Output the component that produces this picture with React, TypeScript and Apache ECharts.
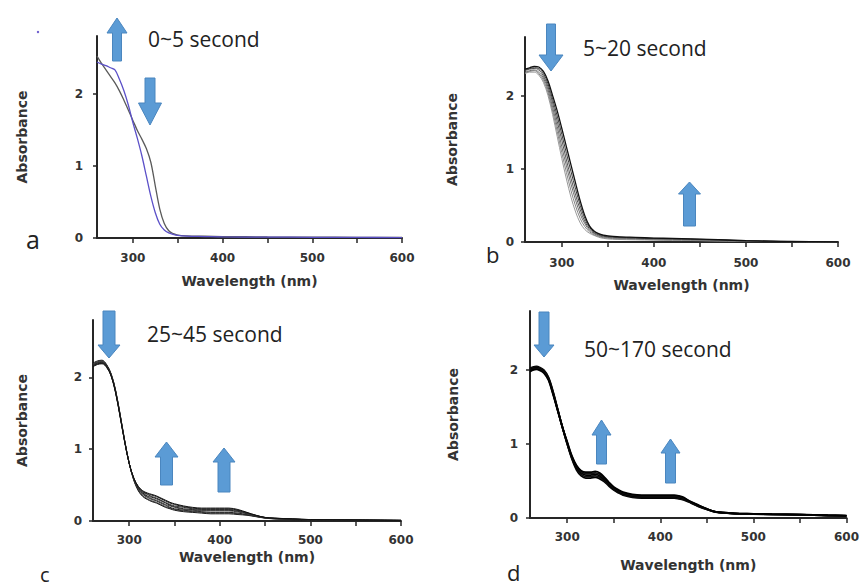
import React, { useEffect, useRef } from "react";
import * as echarts from "echarts";

// ---------- data ----------
const WL_A = [260, 265, 270, 275, 280, 285, 290, 295, 300, 305, 310, 315, 320, 325, 330, 335, 340, 345, 350, 360, 380, 400, 450, 500, 550, 600];
const A_GREY = [2.52, 2.42, 2.33, 2.24, 2.15, 2.04, 1.91, 1.77, 1.63, 1.49, 1.37, 1.24, 1.05, 0.72, 0.40, 0.20, 0.10, 0.06, 0.04, 0.03, 0.025, 0.02, 0.015, 0.012, 0.01, 0.01];
const A_BLUE = [2.44, 2.41, 2.39, 2.36, 2.33, 2.20, 2.04, 1.84, 1.60, 1.38, 1.14, 0.86, 0.58, 0.35, 0.19, 0.11, 0.07, 0.05, 0.035, 0.025, 0.02, 0.015, 0.012, 0.01, 0.008, 0.005];

const WL_B = [260, 265, 270, 275, 280, 285, 290, 295, 300, 305, 310, 315, 320, 325, 330, 335, 340, 345, 350, 360, 380, 400, 420, 440, 460, 480, 500, 525, 550, 600];
const B1 = [2.30, 2.32, 2.32, 2.28, 2.18, 2.00, 1.74, 1.44, 1.14, 0.86, 0.61, 0.41, 0.26, 0.17, 0.12, 0.09, 0.065, 0.05, 0.042, 0.035, 0.03, 0.025, 0.02, 0.02, 0.015, 0.012, 0.01, 0.008, 0.005, 0];
const B2 = [2.31, 2.33, 2.34, 2.30, 2.21, 2.04, 1.79, 1.51, 1.22, 0.95, 0.70, 0.49, 0.32, 0.21, 0.14, 0.10, 0.075, 0.06, 0.052, 0.044, 0.038, 0.032, 0.028, 0.025, 0.02, 0.015, 0.012, 0.008, 0.005, 0];
const B3 = [2.32, 2.34, 2.35, 2.32, 2.24, 2.08, 1.84, 1.58, 1.30, 1.04, 0.79, 0.57, 0.38, 0.25, 0.16, 0.115, 0.085, 0.07, 0.062, 0.053, 0.046, 0.04, 0.035, 0.031, 0.025, 0.019, 0.013, 0.009, 0.006, 0];
const B4 = [2.34, 2.36, 2.37, 2.35, 2.27, 2.12, 1.90, 1.65, 1.39, 1.12, 0.87, 0.64, 0.44, 0.28, 0.18, 0.125, 0.095, 0.078, 0.07, 0.06, 0.053, 0.046, 0.041, 0.036, 0.029, 0.022, 0.015, 0.01, 0.006, 0];
const B5 = [2.35, 2.37, 2.38, 2.37, 2.30, 2.16, 1.95, 1.72, 1.47, 1.21, 0.96, 0.72, 0.50, 0.32, 0.20, 0.14, 0.105, 0.088, 0.078, 0.067, 0.058, 0.05, 0.045, 0.04, 0.033, 0.025, 0.017, 0.011, 0.007, 0];
const B6 = [2.36, 2.38, 2.40, 2.39, 2.33, 2.20, 2.00, 1.79, 1.55, 1.30, 1.05, 0.80, 0.56, 0.36, 0.22, 0.15, 0.115, 0.095, 0.085, 0.073, 0.063, 0.054, 0.049, 0.044, 0.036, 0.027, 0.018, 0.012, 0.007, 0];

const WL_C = [260, 265, 270, 275, 280, 285, 290, 295, 300, 305, 310, 315, 320, 325, 330, 335, 340, 345, 350, 360, 370, 380, 390, 400, 410, 420, 430, 440, 450, 460, 480, 500, 550, 600];
const C1 = [2.20, 2.23, 2.24, 2.18, 2.05, 1.82, 1.48, 1.12, 0.80, 0.57, 0.42, 0.34, 0.30, 0.27, 0.25, 0.22, 0.19, 0.17, 0.15, 0.13, 0.12, 0.11, 0.10, 0.10, 0.10, 0.09, 0.08, 0.06, 0.04, 0.03, 0.02, 0.015, 0.01, 0.005];
const C2 = [2.19, 2.22, 2.23, 2.17, 2.05, 1.81, 1.48, 1.12, 0.80, 0.57, 0.43, 0.35, 0.31, 0.28, 0.26, 0.23, 0.20, 0.18, 0.16, 0.14, 0.13, 0.12, 0.11, 0.11, 0.11, 0.10, 0.085, 0.063, 0.042, 0.031, 0.021, 0.016, 0.011, 0.006];
const C3 = [2.18, 2.21, 2.22, 2.17, 2.04, 1.81, 1.47, 1.11, 0.80, 0.58, 0.44, 0.37, 0.33, 0.30, 0.28, 0.25, 0.22, 0.19, 0.17, 0.15, 0.14, 0.13, 0.12, 0.12, 0.12, 0.11, 0.09, 0.066, 0.043, 0.033, 0.023, 0.017, 0.012, 0.007];
const C4 = [2.18, 2.21, 2.22, 2.16, 2.04, 1.80, 1.47, 1.11, 0.80, 0.58, 0.45, 0.38, 0.34, 0.31, 0.29, 0.26, 0.23, 0.21, 0.19, 0.16, 0.15, 0.14, 0.14, 0.14, 0.14, 0.125, 0.10, 0.07, 0.045, 0.035, 0.025, 0.018, 0.012, 0.008];
const C5 = [2.17, 2.20, 2.21, 2.16, 2.03, 1.80, 1.46, 1.11, 0.80, 0.59, 0.46, 0.39, 0.35, 0.33, 0.31, 0.28, 0.25, 0.22, 0.20, 0.17, 0.16, 0.15, 0.15, 0.15, 0.15, 0.135, 0.105, 0.073, 0.047, 0.037, 0.026, 0.018, 0.013, 0.008];
const C6 = [2.16, 2.19, 2.20, 2.15, 2.03, 1.79, 1.46, 1.10, 0.80, 0.59, 0.47, 0.40, 0.37, 0.34, 0.32, 0.29, 0.26, 0.23, 0.21, 0.19, 0.17, 0.16, 0.16, 0.16, 0.16, 0.145, 0.11, 0.076, 0.048, 0.038, 0.028, 0.019, 0.014, 0.009];
const C7 = [2.16, 2.19, 2.20, 2.15, 2.02, 1.79, 1.45, 1.10, 0.80, 0.60, 0.48, 0.41, 0.38, 0.36, 0.34, 0.31, 0.28, 0.25, 0.23, 0.20, 0.18, 0.17, 0.17, 0.17, 0.17, 0.15, 0.115, 0.078, 0.049, 0.039, 0.029, 0.02, 0.014, 0.009];
const C8 = [2.15, 2.18, 2.19, 2.14, 2.02, 1.78, 1.45, 1.10, 0.80, 0.60, 0.48, 0.42, 0.39, 0.37, 0.35, 0.32, 0.29, 0.26, 0.24, 0.21, 0.19, 0.18, 0.18, 0.18, 0.18, 0.16, 0.12, 0.08, 0.05, 0.04, 0.03, 0.02, 0.015, 0.01];

const WL_D = [260, 263, 267, 270, 275, 280, 285, 290, 295, 300, 305, 310, 315, 320, 325, 330, 335, 340, 345, 350, 355, 360, 370, 380, 390, 400, 410, 415, 420, 425, 430, 435, 440, 450, 460, 470, 480, 500, 520, 550, 580, 600];
const D1 = [2.02, 2.04, 2.05, 2.04, 2.00, 1.90, 1.70, 1.46, 1.22, 1.00, 0.80, 0.65, 0.57, 0.54, 0.54, 0.55, 0.53, 0.49, 0.43, 0.38, 0.34, 0.31, 0.28, 0.27, 0.27, 0.27, 0.27, 0.27, 0.26, 0.245, 0.22, 0.19, 0.16, 0.115, 0.078, 0.068, 0.058, 0.053, 0.048, 0.043, 0.033, 0.028];
const D2 = [2.01, 2.03, 2.04, 2.03, 1.99, 1.89, 1.69, 1.45, 1.22, 1.00, 0.81, 0.67, 0.59, 0.56, 0.56, 0.57, 0.55, 0.50, 0.45, 0.39, 0.35, 0.32, 0.29, 0.28, 0.28, 0.28, 0.28, 0.28, 0.27, 0.25, 0.225, 0.195, 0.165, 0.118, 0.079, 0.069, 0.059, 0.054, 0.049, 0.044, 0.034, 0.029];
const D3 = [2.00, 2.02, 2.03, 2.02, 1.98, 1.88, 1.68, 1.45, 1.22, 1.01, 0.82, 0.68, 0.61, 0.58, 0.58, 0.59, 0.57, 0.52, 0.46, 0.40, 0.36, 0.33, 0.30, 0.29, 0.29, 0.29, 0.29, 0.29, 0.28, 0.26, 0.23, 0.20, 0.17, 0.12, 0.08, 0.07, 0.06, 0.055, 0.05, 0.045, 0.035, 0.03];
const D4 = [1.99, 2.01, 2.02, 2.01, 1.97, 1.87, 1.67, 1.45, 1.22, 1.02, 0.83, 0.70, 0.63, 0.60, 0.60, 0.61, 0.59, 0.54, 0.47, 0.41, 0.37, 0.34, 0.31, 0.30, 0.30, 0.30, 0.30, 0.30, 0.29, 0.27, 0.235, 0.205, 0.175, 0.123, 0.082, 0.071, 0.061, 0.056, 0.051, 0.046, 0.036, 0.031];
const D5 = [1.98, 2.00, 2.01, 2.00, 1.96, 1.86, 1.66, 1.44, 1.22, 1.03, 0.84, 0.71, 0.64, 0.62, 0.62, 0.63, 0.61, 0.55, 0.48, 0.42, 0.38, 0.35, 0.32, 0.31, 0.31, 0.31, 0.31, 0.31, 0.30, 0.28, 0.24, 0.21, 0.18, 0.125, 0.083, 0.072, 0.062, 0.057, 0.052, 0.047, 0.037, 0.032];

const X_TICKS = [300, 350, 400, 450, 500, 550, 600];
const X_LABELS = [300, 400, 500, 600];
const Y_TICKS = [0, 1, 2];
const TITLES = ["0~5 second", "5~20 second", "25~45 second", "50~170 second"];
const PANEL_LETTERS = ["a", "b", "c", "d"];

// ---------- layout ----------
const GRIDS = [
  { left: 97, top: 36, width: 305, height: 202, xGap: 36, yGap: 68, xMargin: 14, yMargin: 14 },
  { left: 525, top: 37, width: 313, height: 205, xGap: 36, yGap: 66, xMargin: 15, yMargin: 11 },
  { left: 93, top: 320, width: 308, height: 201, xGap: 28.5, yGap: 64, xMargin: 13, yMargin: 11 },
  { left: 530, top: 311, width: 318, height: 207, xGap: 40, yGap: 70, xMargin: 13, yMargin: 12 },
];

const ARROW_COLOR = "#5b9bd5";
const AXIS_COLOR = "#262626";
const TEXT_COLOR = "#333";

function arrow(cx: number, tail: number, tip: number, headLen: number, headW: number, shaftW: number) {
  const dir = tip > tail ? 1 : -1;
  const neck = tip - dir * headLen;
  const pts = [
    [cx - shaftW / 2, tail],
    [cx + shaftW / 2, tail],
    [cx + shaftW / 2, neck],
    [cx + headW / 2, neck],
    [cx, tip],
    [cx - headW / 2, neck],
    [cx - shaftW / 2, neck],
  ];
  return {
    type: "polygon",
    shape: { points: pts },
    style: { fill: ARROW_COLOR, stroke: "#4a86bf", lineWidth: 1 },
    silent: true,
  };
}

function line(wl: number[], vals: number[], idx: number, color: string, width: number) {
  return {
    type: "line",
    xAxisIndex: idx,
    yAxisIndex: idx,
    data: wl.map((w, i) => [w, vals[i]]),
    symbol: "none",
    showSymbol: false,
    smooth: 0.35,
    lineStyle: { color, width },
    silent: true,
    z: 2,
  };
}

export default function App() {
  const ref = useRef<HTMLDivElement>(null);
  useEffect(() => {
    if (!ref.current) return;
    const chart = echarts.init(ref.current, undefined, { renderer: "svg" });

    const grid = GRIDS.map((g) => ({ left: g.left, top: g.top, width: g.width, height: g.height, containLabel: false }));
    const xAxis = GRIDS.map((g, i) => ({
      type: "value",
      gridIndex: i,
      min: 260,
      max: 600,
      name: "Wavelength (nm)",
      nameLocation: "middle",
      nameGap: g.xGap,
      nameTextStyle: { fontFamily: "DejaVu Sans", fontWeight: "bold", fontSize: 14, color: TEXT_COLOR },
      axisLine: { show: true, onZero: false, lineStyle: { color: AXIS_COLOR, width: 2 } },
      axisTick: { show: true, length: 5, customValues: X_TICKS, lineStyle: { color: AXIS_COLOR, width: 1.5 } },
      axisLabel: { customValues: X_LABELS, margin: g.xMargin, fontFamily: "DejaVu Sans", fontWeight: "bold", fontSize: 12, color: TEXT_COLOR },
      splitLine: { show: false },
    }));
    const yAxis = GRIDS.map((g, i) => ({
      type: "value",
      gridIndex: i,
      min: 0,
      max: 2.8,
      name: "Absorbance",
      nameLocation: "middle",
      nameGap: g.yGap,
      nameTextStyle: { fontFamily: "DejaVu Sans", fontWeight: "bold", fontSize: 14, color: TEXT_COLOR },
      axisLine: { show: true, onZero: false, lineStyle: { color: AXIS_COLOR, width: 2 } },
      axisTick: { show: true, length: 4, customValues: Y_TICKS, lineStyle: { color: AXIS_COLOR, width: 1.5 } },
      axisLabel: { customValues: Y_TICKS, margin: g.yMargin, fontFamily: "DejaVu Sans", fontWeight: "bold", fontSize: 12, color: TEXT_COLOR },
      splitLine: { show: false },
    }));

    const series: any[] = [
      line(WL_A, A_GREY, 0, "#5a5a5a", 1.3),
      line(WL_A, A_BLUE, 0, "#5b50c8", 1.3),
      line(WL_B, B1, 1, "#9a9a9a", 1),
      line(WL_B, B2, 1, "#858585", 1),
      line(WL_B, B3, 1, "#6e6e6e", 1),
      line(WL_B, B4, 1, "#555555", 1),
      line(WL_B, B5, 1, "#3a3a3a", 1),
      line(WL_B, B6, 1, "#111111", 1.3),
      line(WL_C, C1, 2, "#111", 1),
      line(WL_C, C2, 2, "#333", 1),
      line(WL_C, C3, 2, "#222", 1),
      line(WL_C, C4, 2, "#444", 1),
      line(WL_C, C5, 2, "#222", 1),
      line(WL_C, C6, 2, "#333", 1),
      line(WL_C, C7, 2, "#222", 1),
      line(WL_C, C8, 2, "#111", 1),
      line(WL_D, D1, 3, "#000", 1.8),
      line(WL_D, D2, 3, "#111", 1.8),
      line(WL_D, D3, 3, "#000", 1.8),
      line(WL_D, D4, 3, "#111", 1.8),
      line(WL_D, D5, 3, "#000", 1.8),
    ];

    const titlePos = [
      [148, 39],
      [583, 47.5],
      [147, 334],
      [584, 349],
    ];
    const letterPos = [
      [26, 239, 25],
      [486, 254, 22],
      [40, 574, 20],
      [507, 572, 22],
    ];

    const graphic: any[] = [
      ...TITLES.map((t, i) => ({
        type: "text",
        x: titlePos[i][0],
        y: titlePos[i][1],
        silent: true,
        style: { text: t, fill: "#222", font: "21px 'Open Sans'", textVerticalAlign: "middle", textAlign: "left" },
      })),
      ...PANEL_LETTERS.map((t, i) => ({
        type: "text",
        x: letterPos[i][0],
        y: letterPos[i][1],
        silent: true,
        style: { text: t, fill: "#222", font: `${letterPos[i][2]}px 'Open Sans'`, textVerticalAlign: "middle", textAlign: "left" },
      })),
      { type: "circle", shape: { cx: 38, cy: 32, r: 1.2 }, style: { fill: "#6a5acd" }, silent: true },
      arrow(117, 61, 18, 15, 20, 9),
      arrow(150, 78, 125, 22, 23, 10),
      arrow(551, 24, 71, 16, 24, 9),
      arrow(689.5, 226, 182, 12, 22, 12),
      arrow(109, 311, 358, 13, 22, 12),
      arrow(166.5, 485, 442, 15, 23, 12),
      arrow(224, 492, 448, 14, 22, 12),
      arrow(544, 312, 357, 12, 20, 10),
      arrow(601.5, 464, 420, 15, 19, 10),
      arrow(670.5, 483, 439, 14, 19, 10),
    ];

    chart.setOption({
      animation: false,
      backgroundColor: "#ffffff",
      grid,
      xAxis,
      yAxis,
      series,
      graphic,
    });
    return () => chart.dispose();
  }, []);
  return <div ref={ref} style={{ position: "absolute", left: 0, top: 0, width: 862, height: 587 }} />;
}
